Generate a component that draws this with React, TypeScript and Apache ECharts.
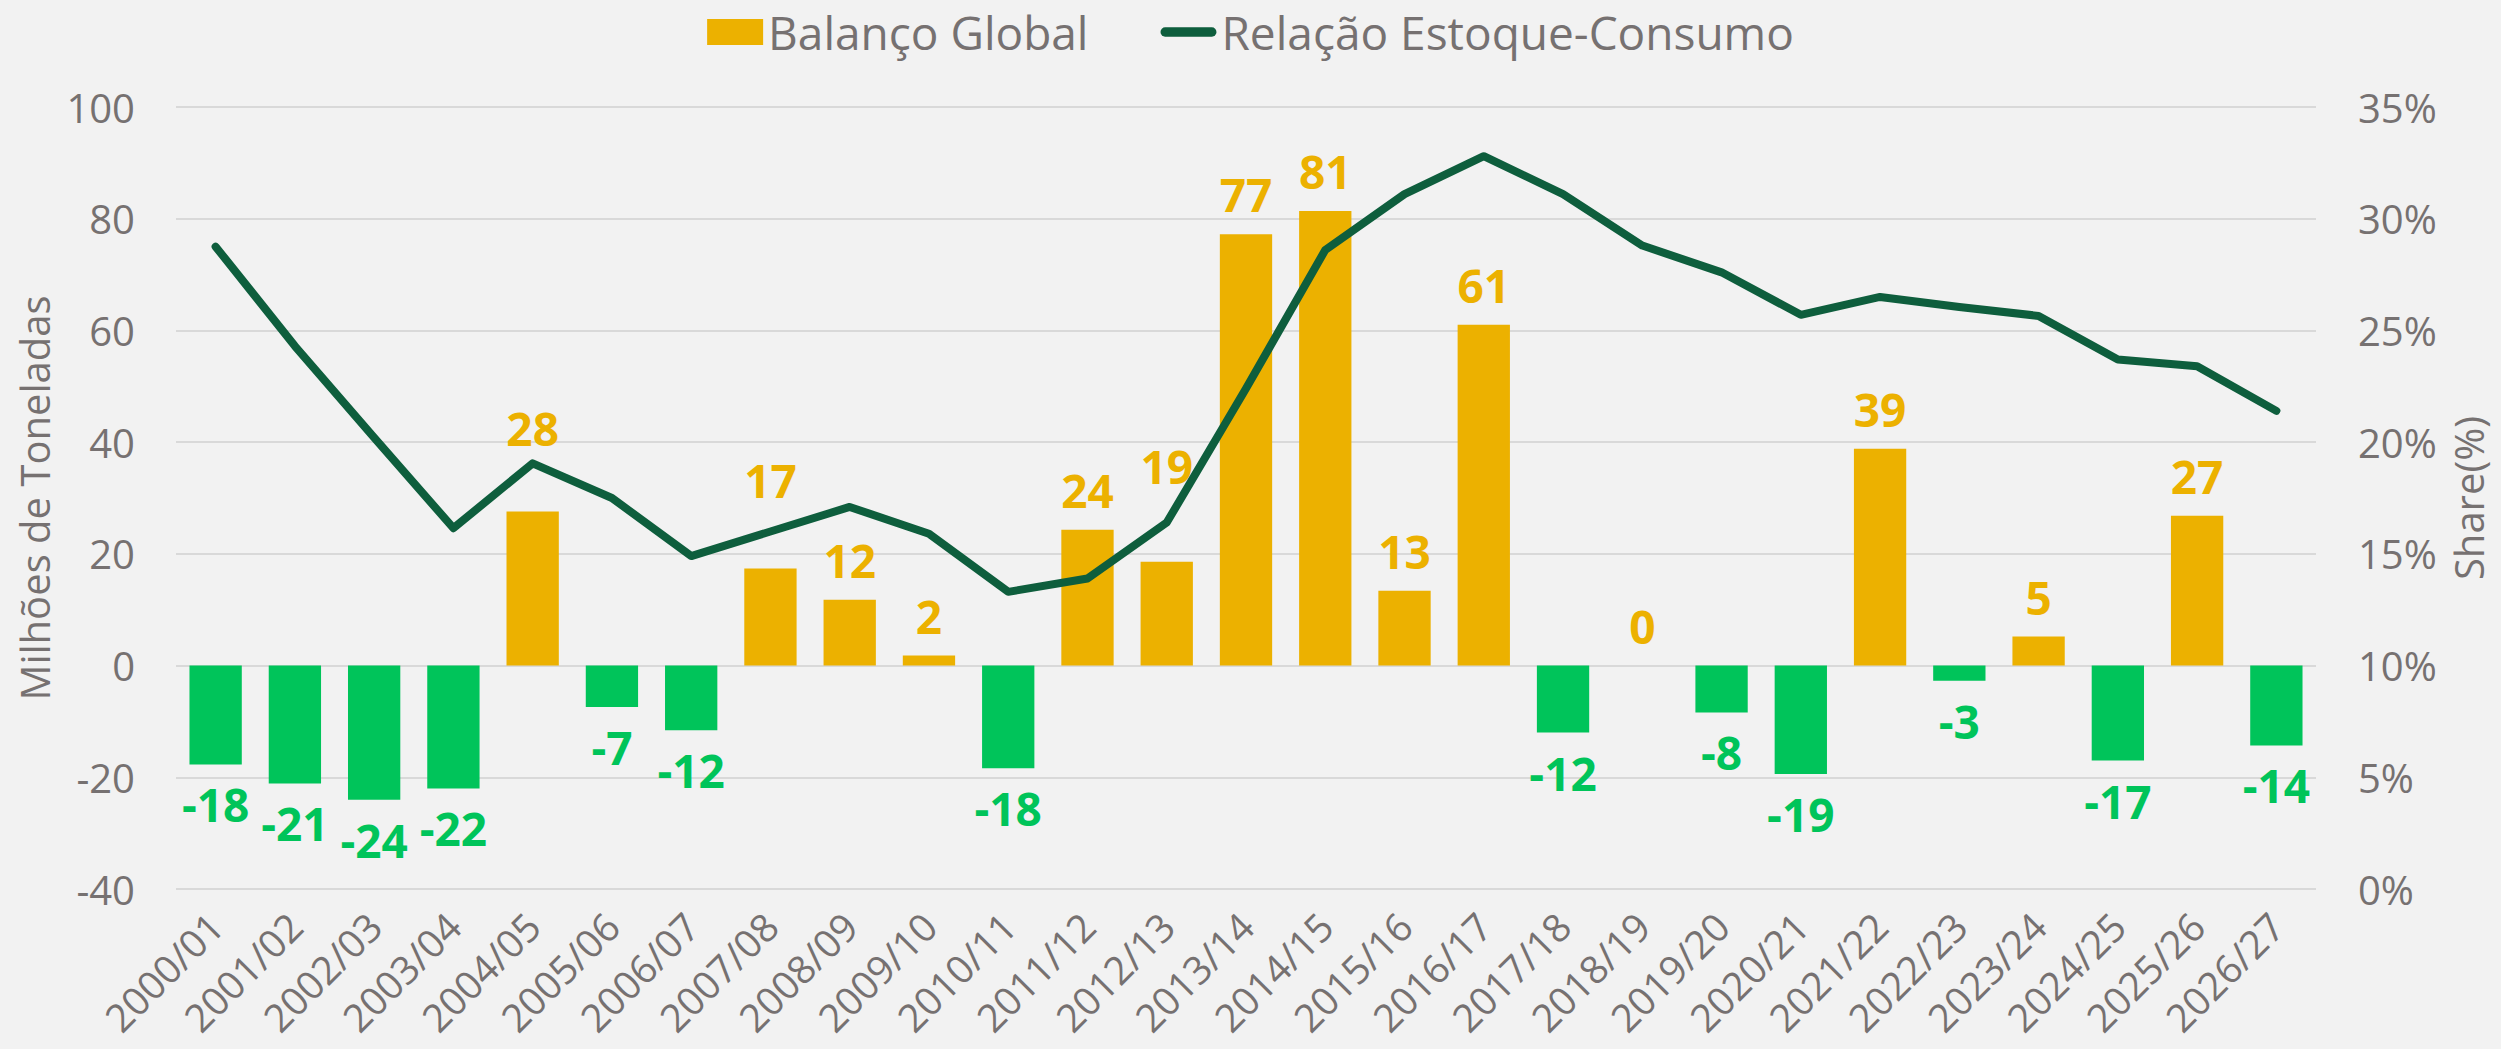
import React, { useEffect, useRef } from 'react';
import * as echarts from 'echarts';

const categories = [
  '2000/01', '2001/02', '2002/03', '2003/04', '2004/05', '2005/06', '2006/07', '2007/08', '2008/09',
  '2009/10', '2010/11', '2011/12', '2012/13', '2013/14', '2014/15', '2015/16', '2016/17', '2017/18',
  '2018/19', '2019/20', '2020/21', '2021/22', '2022/23', '2023/24', '2024/25', '2025/26', '2026/27',
];

// Balanço Global (milhões de toneladas)
const balanceValues = [
  -17.7, -21.1, -24.0, -22.0, 27.6, -7.4, -11.6, 17.4, 11.8,
  1.8, -18.4, 24.3, 18.6, 77.2, 81.4, 13.4, 61.0, -12.0,
  0, -8.4, -19.4, 38.8, -2.7, 5.2, -17.0, 26.8, -14.3,
];

// Relação Estoque-Consumo (%)
const stockRatioValues = [
  28.75, 24.3, 20.2, 16.15, 19.05, 17.5, 14.9, 16.0, 17.1,
  15.9, 13.3, 13.9, 16.4, 22.4, 28.6, 31.1, 32.8, 31.1,
  28.8, 27.6, 25.7, 26.5, 26.05, 25.65, 23.7, 23.4, 21.4,
];

const seriesNames = ['Balanço Global', 'Relação Estoque-Consumo'];

// extra label lift (px) used in the original for a few labels
const labelLift: Record<string, number> = { '2004/05': 43, '2007/08': 48, '2012/13': 56 };

const YELLOW = '#ECB100';
const GREEN = '#00C45A';
const DARK = '#0E5E3D';
const GRAY = '#767171';
const GRID = '#D9D9D9';
const FONT = '"Open Sans", "Noto Sans", sans-serif';
const LINE_ICON = 'path://M5,0 L55,0 A5,5 0 0 1 55,10 L5,10 A5,5 0 0 1 5,0 Z';

export default function App() {
  const ref = useRef<HTMLDivElement>(null);

  useEffect(() => {
    const chart = echarts.init(ref.current!, null, { renderer: 'svg' });
    const barData = balanceValues.map((v, i) => {
      const neg = v < 0;
      const col = neg ? GREEN : YELLOW;
      return {
        value: v,
        itemStyle: { color: col },
        label: {
          position: neg ? 'bottom' : 'top',
          distance: 17 + (labelLift[categories[i]] || 0),
          color: col,
        },
      };
    });

    chart.setOption({
      animation: false,
      backgroundColor: '#F2F2F2',
      textStyle: { fontFamily: FONT },
      legend: {
        data: [
          { name: seriesNames[0], icon: 'rect', itemStyle: { color: YELLOW } },
          { name: seriesNames[1], icon: LINE_ICON, itemStyle: { color: DARK } },
        ],
        top: 4,
        left: 'center',
        itemWidth: 56,
        itemHeight: 26,
        itemGap: 72,
        textStyle: { fontSize: 46, color: GRAY, fontFamily: FONT },
      },
      grid: {
        left: 176,
        right: 185,
        top: 107,
        bottom: 160,
        outerBoundsMode: 'none',
      },
      xAxis: {
        type: 'category',
        data: categories,
        boundaryGap: true,
        axisLine: { show: false },
        axisTick: { show: false },
        axisLabel: {
          rotate: 45,
          interval: 0,
          fontSize: 39,
          color: GRAY,
          margin: 30,
          fontFamily: FONT,
        },
      },
      yAxis: [
        {
          type: 'value',
          min: -40,
          max: 100,
          interval: 20,
          name: 'Milhões de Toneladas',
          nameLocation: 'middle',
          nameGap: 122,
          nameTextStyle: { fontSize: 40, color: GRAY, fontFamily: FONT },
          axisLine: { show: false },
          axisTick: { show: false },
          axisLabel: { fontSize: 40, color: GRAY, margin: 41, fontFamily: FONT },
          splitLine: { show: true, lineStyle: { color: GRID, width: 2 } },
        },
        {
          type: 'value',
          min: 0,
          max: 35,
          interval: 5,
          position: 'right',
          name: 'Share(%)',
          nameLocation: 'middle',
          nameGap: 132,
          nameTextStyle: { fontSize: 40, color: GRAY, fontFamily: FONT },
          axisLine: { show: false },
          axisTick: { show: false },
          axisLabel: { fontSize: 40, color: GRAY, margin: 42, formatter: '{value}%', fontFamily: FONT },
          splitLine: { show: false },
        },
      ],
      series: [
        {
          name: seriesNames[0],
          type: 'bar',
          yAxisIndex: 0,
          barCategoryGap: '34%',
          itemStyle: { color: YELLOW },
          label: {
            show: true,
            fontSize: 46,
            fontWeight: 'bold',
            fontFamily: FONT,
            formatter: (p: any) => String(Math.round(p.value)),
          },
          data: barData,
        },
        {
          name: seriesNames[1],
          type: 'line',
          yAxisIndex: 1,
          symbol: 'none',
          itemStyle: { color: DARK },
          lineStyle: { color: DARK, width: 8, cap: 'round', join: 'round' },
          data: stockRatioValues,
          z: 3,
        },
      ],
    });
    return () => chart.dispose();
  }, []);

  return (
    <div
      ref={ref}
      style={{ position: 'fixed', left: 0, top: 0, width: 2501, height: 1049 }}
    />
  );
}
